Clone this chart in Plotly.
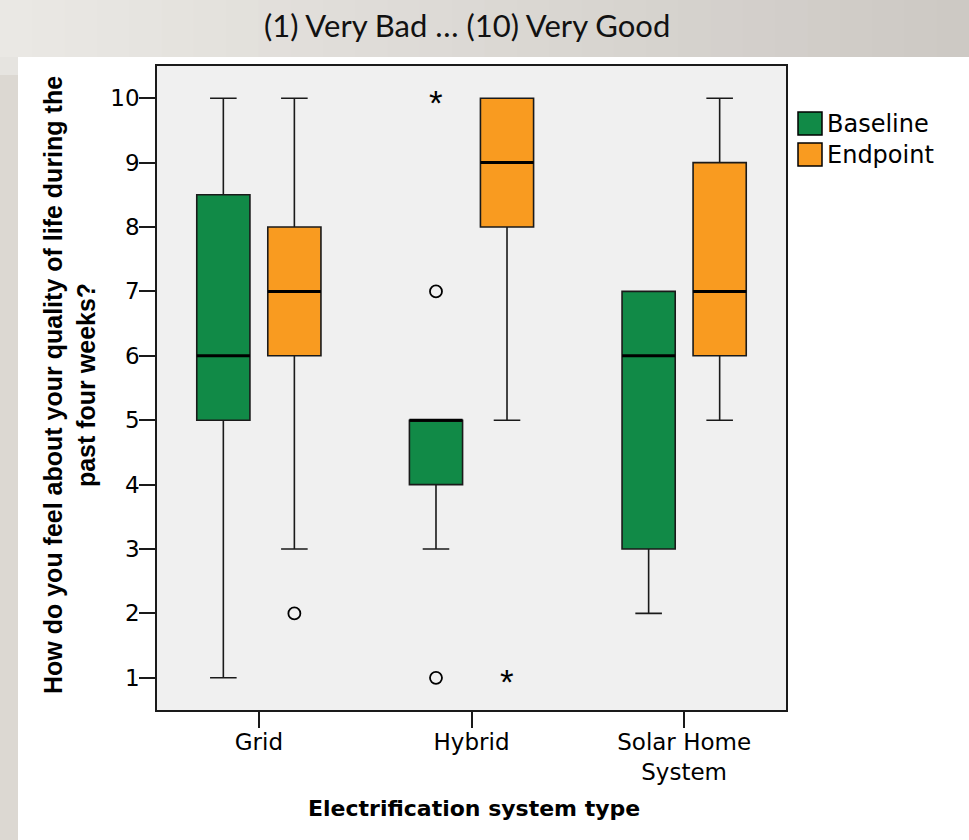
import plotly.graph_objects as go

categories = ["Grid", "Hybrid", "Solar Home<br>System"]
series_names = ["Baseline", "Endpoint"]
colors = {"Baseline": "#118a47", "Endpoint": "#f99b20"}

# box statistics per category (Grid, Hybrid, Solar Home System)
baseline_low = [1, 3, 2]
baseline_q1 = [5, 4, 3]
baseline_med = [6, 5, 6]
baseline_q3 = [8.5, 5, 7]
baseline_high = [10, 5, 7]

endpoint_low = [3, 5, 5]
endpoint_q1 = [6, 8, 6]
endpoint_med = [7, 9, 7]
endpoint_q3 = [8, 10, 9]
endpoint_high = [10, 10, 10]

# outliers: (category index, value)
baseline_circles = [(1, 7), (1, 1)]
baseline_stars = [(1, 10)]
endpoint_circles = [(0, 2)]
endpoint_stars = [(1, 1)]

y_ticks = list(range(1, 11))

# layout geometry (pixels)
W, H = 969, 840
L, R, T, B = 157, 786, 66, 710
PW, PH = R - L, B - T


def px(x):
    return (x - L) / PW


def py(y):
    return (B - y) / PH


offset = {"Baseline": -0.167, "Endpoint": 0.167}
box_w = 0.25

stats = {
    "Baseline": (baseline_low, baseline_q1, baseline_med, baseline_q3, baseline_high),
    "Endpoint": (endpoint_low, endpoint_q1, endpoint_med, endpoint_q3, endpoint_high),
}
circles = {"Baseline": baseline_circles, "Endpoint": endpoint_circles}
stars = {"Baseline": baseline_stars, "Endpoint": endpoint_stars}

fig = go.Figure()
line_col = "#1a1a1a"
annotations = []

for s in series_names:
    low, q1, med, q3, high = stats[s]
    pos = [i + offset[s] for i in range(len(categories))]
    fig.add_trace(go.Box(
        x=pos, lowerfence=low, q1=q1, median=med, q3=q3, upperfence=high,
        width=box_w, whiskerwidth=0.5, fillcolor=colors[s],
        line=dict(color=line_col, width=1.6), name=s, showlegend=False,
        hoverinfo="skip", boxpoints=False,
    ))
    # thick median lines
    mx, my = [], []
    for p, m in zip(pos, med):
        mx += [p - box_w / 2, p + box_w / 2, None]
        my += [m, m, None]
    fig.add_trace(go.Scatter(x=mx, y=my, mode="lines",
                             line=dict(color="black", width=3),
                             showlegend=False, hoverinfo="skip"))
    if circles[s]:
        fig.add_trace(go.Scatter(
            x=[c + offset[s] for c, v in circles[s]], y=[v for c, v in circles[s]],
            mode="markers", marker=dict(symbol="circle-open", size=12,
                                        color="black", line=dict(width=1.8)),
            showlegend=False, hoverinfo="skip"))
    for c, v in stars[s]:
        annotations.append(dict(text="*", x=c + offset[s], y=v, xref="x", yref="y",
                                showarrow=False, xanchor="center", yanchor="middle",
                                yshift=-4,
                                font=dict(family="Liberation Sans, Arial", size=35,
                                          color="black")))

shapes = []
# top band gradient
n = 30
c0 = (234, 232, 228)
c1 = (205, 201, 196)
x_left, x_right = px(0), px(W)
for k in range(n):
    f = k / (n - 1)
    col = tuple(round(c0[j] + (c1[j] - c0[j]) * f) for j in range(3))
    shapes.append(dict(type="rect", xref="paper", yref="paper", layer="below",
                       x0=x_left + (x_right - x_left) * k / n,
                       x1=x_left + (x_right - x_left) * (k + 1) / n + 0.002,
                       y0=py(57), y1=py(0), line=dict(width=0),
                       fillcolor="rgb(%d,%d,%d)" % col))
# left strip
shapes.append(dict(type="rect", xref="paper", yref="paper", layer="below",
                   x0=px(0), x1=px(18), y0=py(75), y1=py(57), line=dict(width=0),
                   fillcolor="#e6e4e0"))
shapes.append(dict(type="rect", xref="paper", yref="paper", layer="below",
                   x0=px(0), x1=px(18), y0=py(H), y1=py(75), line=dict(width=0),
                   fillcolor="#dcd8d2"))
# legend squares
leg_rows = [(112, 135, 124), (143, 166, 155)]
for s, (y0, y1, yc) in zip(series_names, leg_rows):
    shapes.append(dict(type="rect", xref="paper", yref="paper",
                       x0=px(798), x1=px(822), y0=py(y1), y1=py(y0),
                       line=dict(color="black", width=1.5), fillcolor=colors[s]))
    annotations.append(dict(text=s, xref="paper", yref="paper", x=px(825), y=py(yc),
                            xanchor="left", yanchor="middle", showarrow=False,
                            font=dict(family="DejaVu Sans", size=24, color="black")))

annotations.append(dict(text="(1) Very Bad … (10) Very Good", xref="paper", yref="paper",
                        x=px(467), y=py(25), xanchor="center", yanchor="middle",
                        showarrow=False,
                        font=dict(family="Lato", size=31, color="#111111")))
annotations.append(dict(text="<b>Electrification system type</b>", xref="paper", yref="paper",
                        x=px(474), y=py(808), xanchor="center", yanchor="middle",
                        showarrow=False,
                        font=dict(family="DejaVu Sans", size=22, color="black")))
annotations.append(dict(text="<b>How do you feel about your quality of life during the<br>past four weeks?</b>",
                        xref="paper", yref="paper", x=px(69), y=py(385), textangle=-90,
                        xanchor="center", yanchor="middle", showarrow=False,
                        font=dict(family="Liberation Sans, Arial", size=25, color="black")))

fig.update_layout(
    width=W, height=H,
    margin=dict(l=L, r=W - R, t=T, b=H - B, autoexpand=False),
    paper_bgcolor="white", plot_bgcolor="#f0f0f0",
    showlegend=False, shapes=shapes, annotations=annotations,
    font=dict(family="DejaVu Sans", color="black"),
)
fig.update_xaxes(range=[-0.479, 2.479], tickvals=list(range(len(categories))),
                 ticktext=categories, ticks="outside", ticklen=16, tickwidth=1.5,
                 tickcolor=line_col, showgrid=False, zeroline=False,
                 showline=True, linecolor=line_col, linewidth=1.5, mirror=True,
                 tickfont=dict(family="DejaVu Sans", size=23, color="black"),
                 ticklabelstandoff=-5)
fig.update_yaxes(range=[0.5, 10.5], tickvals=y_ticks, ticks="outside", ticklen=16,
                 tickwidth=1.5, tickcolor=line_col, showgrid=False, zeroline=False,
                 showline=True, linecolor=line_col, linewidth=1.5, mirror=True,
                 tickfont=dict(family="DejaVu Sans", size=23, color="black"),
                 ticklabelstandoff=-5)

fig.write_html("out.html")
